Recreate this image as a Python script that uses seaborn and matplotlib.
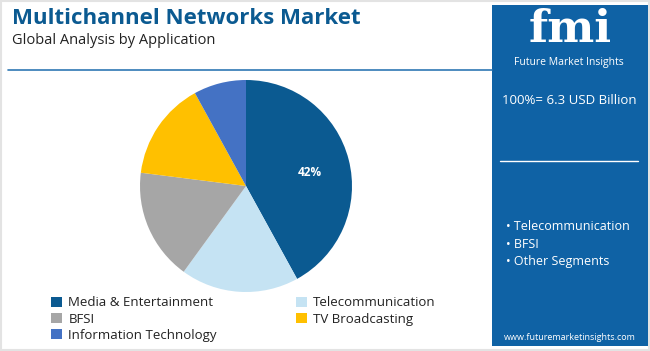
import matplotlib
matplotlib.use("Agg")
import matplotlib.pyplot as plt
import seaborn as sns
from matplotlib.patches import Rectangle

# data
segments = ["Media & Entertainment", "Telecommunication", "BFSI", "TV Broadcasting", "Information Technology"]
shares = [42, 18, 17, 15, 8]
colors = ["#0b5a91", "#c5e3f3", "#a6a6a6", "#ffc000", "#4472c4"]
total_label = "100%= 6.3 USD Billion"
key_segments = ["Telecommunication", "BFSI", "Other Segments"]

sns.set_theme(style="white")
plt.rcParams["font.family"] = ["Open Sans", "DejaVu Sans"]

W, H = 650, 351
fig = plt.figure(figsize=(6.5, 3.51), dpi=100)
fig.patch.set_facecolor("white")

def fx(x):
    return x / W

def fy(y):
    return 1 - y / H

# frame
fig.add_artist(Rectangle((0.002, 0.004), 0.996, 0.992, transform=fig.transFigure,
                         fill=False, edgecolor="#e3e3e3", linewidth=1.5))

# titles
fig.text(fx(12), fy(19), "Multichannel Networks Market", fontsize=16, fontweight="bold",
         color="#0b5a91", va="center", ha="left")
fig.text(fx(12), fy(40), "Global Analysis by Application", fontsize=10.5,
         color="#222222", va="center", ha="left")
fig.add_artist(plt.Line2D([fx(8), fx(492)], [fy(70), fy(70)], transform=fig.transFigure,
                          color="#2f78b4", linewidth=1.2))

# pie
ax = fig.add_axes([fx(140), fy(292), fx(212), 212 / H])
wedges, _ = ax.pie(shares, colors=colors, startangle=90, counterclock=False,
                   wedgeprops=dict(linewidth=0))
ax.set_xlim(-1, 1)
ax.set_ylim(-1, 1)
ax.text(0.60, 0.13, f"{shares[0]}%", color="white", fontsize=8.5, fontweight="bold",
        ha="center", va="center")
ax.set_aspect("equal")
ax.axis("off")

# legend (row-wise order in two columns)
order = [0, 2, 4, 1, 3]
leg = fig.legend([wedges[i] for i in order], [segments[i] for i in order], ncol=2,
                 loc="upper left", bbox_to_anchor=(fx(46), fy(291)), frameon=False,
                 fontsize=9.5, handlelength=0.8, handleheight=0.8, handletextpad=0.5,
                 columnspacing=6.0, labelspacing=0.25, borderaxespad=0)
for t in leg.get_texts():
    t.set_color("#222222")

# right panel
fig.add_artist(Rectangle((fx(492), fy(346)), fx(156), (346 - 5) / H, transform=fig.transFigure,
                         facecolor="#0f62a5", edgecolor="none"))
fig.text(fx(570), fy(29), "fmi", fontsize=32, fontweight="bold", color="white",
         ha="center", va="center", family=["DejaVu Serif"])
fig.text(fx(569), fy(62), "Future Market Insights", fontsize=7.5, color="white",
         ha="center", va="center")
fig.text(fx(569), fy(101), total_label, fontsize=9.5, color="white", ha="center", va="center")
fig.add_artist(plt.Line2D([fx(500), fx(638)], [fy(161), fy(161)], transform=fig.transFigure,
                          color="white", linewidth=1))
for i, s in enumerate(key_segments):
    fig.text(fx(506), fy(227 + 17 * i), "\u2022 " + s, fontsize=9, color="white",
             ha="left", va="center")
fig.text(fx(570), fy(338), "www.futuremarketinsights.com", fontsize=6.5, color="white",
         ha="center", va="center")

fig.savefig("out.png", dpi=100, facecolor="white")
